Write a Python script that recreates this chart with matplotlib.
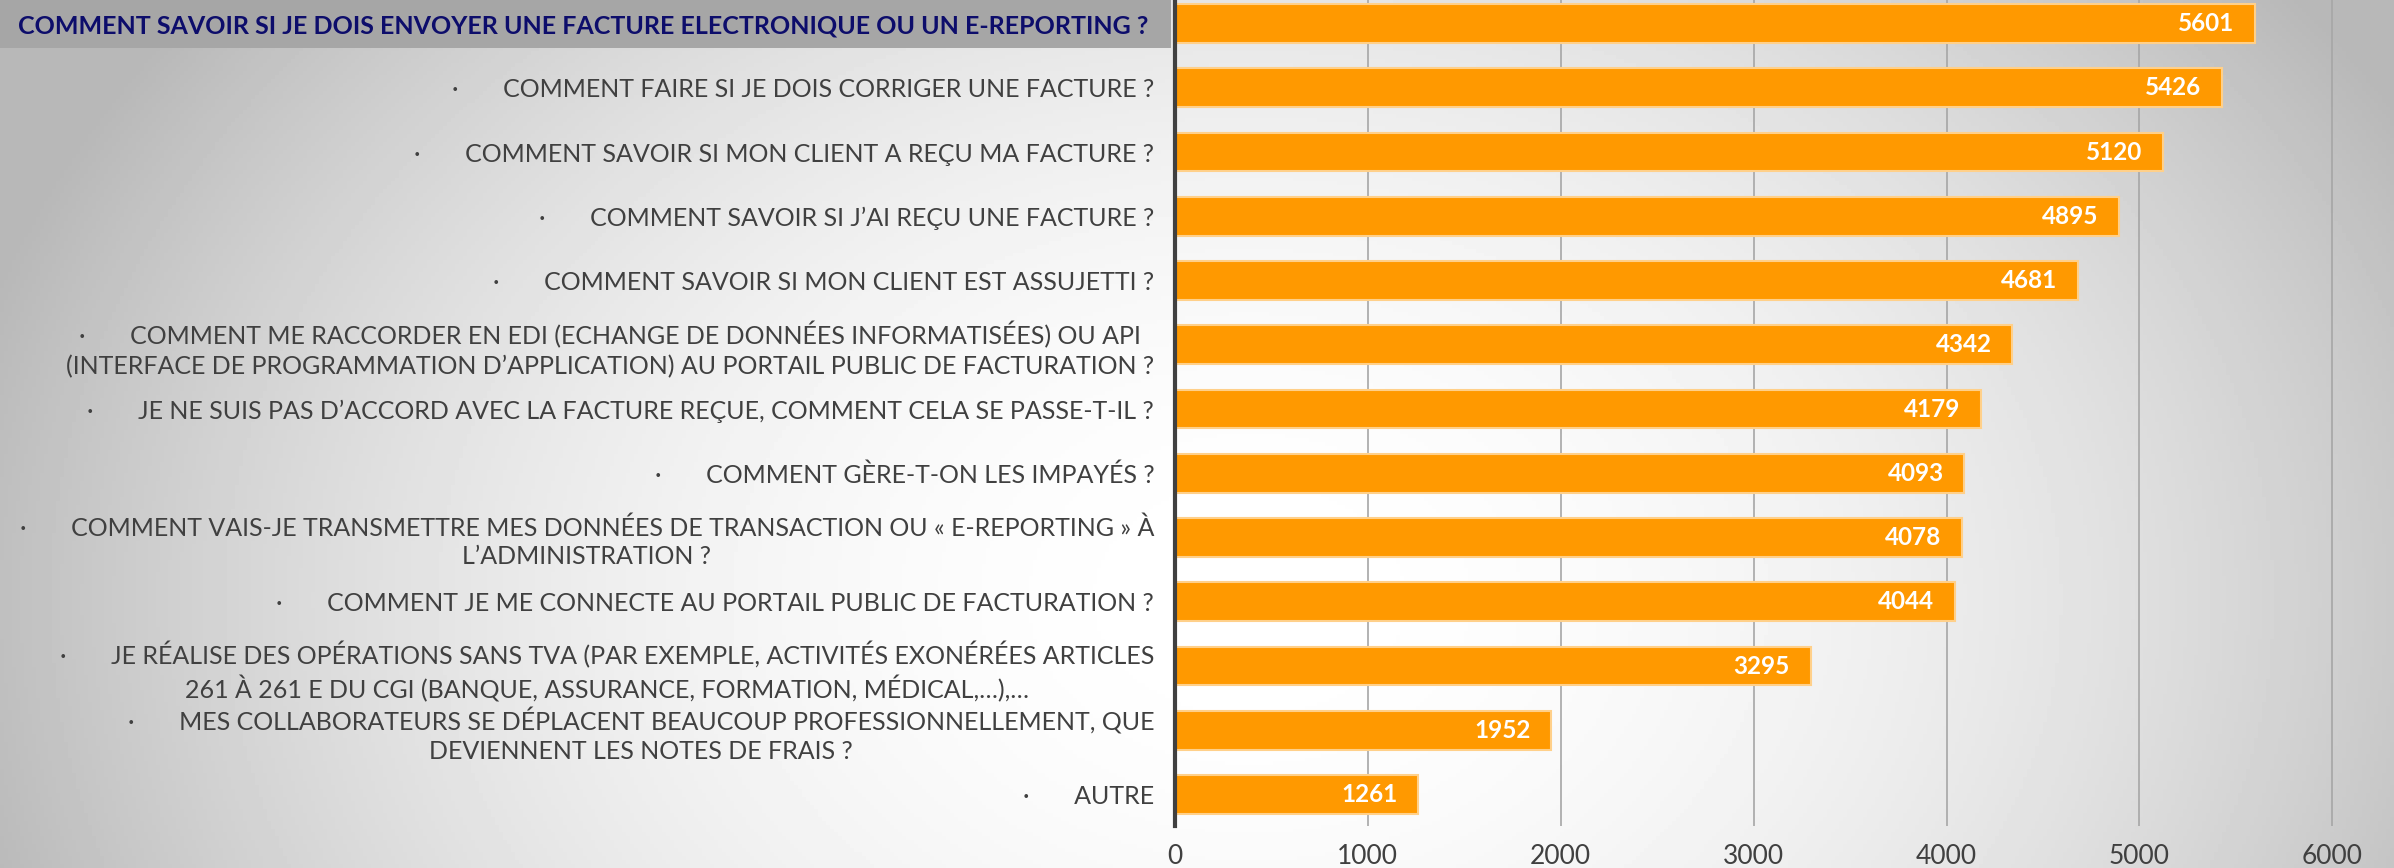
import numpy as np
import matplotlib
matplotlib.use('Agg')
import matplotlib.pyplot as plt
from matplotlib.patches import Rectangle
import matplotlib.transforms as mtransforms

plt.rcParams['font.family'] = ['Lato', 'DejaVu Sans']

# data (top to bottom)
questions = [
    "COMMENT SAVOIR SI JE DOIS ENVOYER UNE FACTURE ELECTRONIQUE OU UN E-REPORTING ?",
    "COMMENT FAIRE SI JE DOIS CORRIGER UNE FACTURE ?",
    "COMMENT SAVOIR SI MON CLIENT A REÇU MA FACTURE ?",
    "COMMENT SAVOIR SI J’AI REÇU UNE FACTURE ?",
    "COMMENT SAVOIR SI MON CLIENT EST ASSUJETTI ?",
    "COMMENT ME RACCORDER EN EDI (ECHANGE DE DONNÉES INFORMATISÉES) OU API\n"
    "(INTERFACE DE PROGRAMMATION D’APPLICATION) AU PORTAIL PUBLIC DE FACTURATION ?",
    "JE NE SUIS PAS D’ACCORD AVEC LA FACTURE REÇUE, COMMENT CELA SE PASSE-T-IL ?",
    "COMMENT GÈRE-T-ON LES IMPAYÉS ?",
    "COMMENT VAIS-JE TRANSMETTRE MES DONNÉES DE TRANSACTION OU « E-REPORTING » À\n"
    "L’ADMINISTRATION ?",
    "COMMENT JE ME CONNECTE AU PORTAIL PUBLIC DE FACTURATION ?",
    "JE RÉALISE DES OPÉRATIONS SANS TVA (PAR EXEMPLE, ACTIVITÉS EXONÉRÉES ARTICLES\n"
    "261 À 261 E DU CGI (BANQUE, ASSURANCE, FORMATION, MÉDICAL,…),…",
    "MES COLLABORATEURS SE DÉPLACENT BEAUCOUP PROFESSIONNELLEMENT, QUE\n"
    "DEVIENNENT LES NOTES DE FRAIS ?",
    "AUTRE",
]
counts = [5601, 5426, 5120, 4895, 4681, 4342, 4179, 4093, 4078, 4044, 3295, 1952, 1261]
x_ticks = [0, 1000, 2000, 3000, 4000, 5000, 6000]

# first one is the highlighted title-like label, the rest get a bullet
labels = [questions[0]] + ["·" + " " * 7 + q for q in questions[1:]]

fig = plt.figure(figsize=(23.94, 8.68), dpi=100)

# radial grey background
bg = fig.add_axes([0, 0, 1, 1], zorder=-10)
xx, yy = np.meshgrid(np.linspace(0, 2394, 600), np.linspace(0, 868, 220))
d2 = ((xx - 1250) / 1200) ** 2 + ((yy - 600) / 900) ** 2
shade = np.clip(1 - 0.23 * d2, 0.72, 1)
bg.imshow(shade, cmap='gray', vmin=0, vmax=1, extent=[0, 1, 0, 1],
          aspect='auto', origin='upper')
bg.axis('off')

# grey band behind the first label
fig.add_artist(Rectangle((0, 0.9447), 0.489, 0.06, transform=fig.transFigure,
                         facecolor='#a6a6a6', edgecolor='none', zorder=0))

ax = fig.add_axes([0.4908, 0.0484, 0.5092, 0.9516])
ax.set_facecolor('none')

y = np.arange(len(counts))
bars = ax.barh(y, counts, height=0.6, color='#ff9900', edgecolor='#ffd08a',
               linewidth=1.5, zorder=3)

for yi, v in zip(y, counts):
    ax.annotate(str(v), (v, yi), xytext=(-15, 0), textcoords='offset points',
                ha='right', va='center', color='white', fontweight='bold',
                fontsize=17.5, zorder=4)

ax.set_ylim(12.49, -0.366)
ax.set_xlim(0, 6320)
ax.set_yticks(y)
ax.set_yticklabels(labels, fontsize=18, color='#404040', linespacing=1.3,
                   multialignment='center')
ax.tick_params(axis='y', length=0, pad=15)
first = ax.get_yticklabels()[0]
first.set_color('#0d0d6b')
first.set_fontweight('bold')
# the highlighted label sits a little further left than the others
first.set_transform(first.get_transform() +
                    mtransforms.ScaledTranslation(-0.06, 0, fig.dpi_scale_trans))

ax.set_xticks(x_ticks)
ax.tick_params(axis='x', length=0, pad=13, labelsize=19, labelcolor='#404040')
ax.grid(axis='x', color='#a6a6a6', linewidth=1.2, zorder=1)

for side in ['top', 'right', 'bottom']:
    ax.spines[side].set_visible(False)
ax.spines['left'].set_color('#404040')
ax.spines['left'].set_linewidth(3)
ax.spines['left'].set_zorder(5)

fig.savefig('out.png', dpi=100)
